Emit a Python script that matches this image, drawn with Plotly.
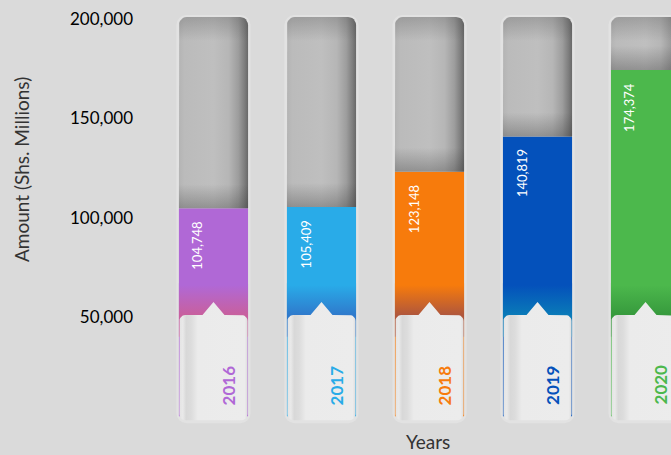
import plotly.graph_objects as go
import numpy as np

# ---------------- data ----------------
years = ["2016", "2017", "2018", "2019", "2020"]
amounts = [104748, 105409, 123148, 140819, 174374]
bar_colors = ["#b068d6", "#29abe8", "#f77b0c", "#0451bb", "#4cb84c"]
fade_colors = ["#c8609e", "#2f7acc", "#b0573c", "#0a7ab8", "#379a3d"]
y_ticks = [50000, 100000, 150000, 200000]
y_tick_text = ["50,000", "100,000", "150,000", "200,000"]
y_title = "Amount (Shs. Millions)"
x_title = "Years"

# ---------------- layout geometry ----------------
W, H = 671, 455
ML, MR, MT, MB = 145, 0, 10, 25
X_RANGE = [-0.634, 4.236]
Y_RANGE = [-6900, 204530]
PX_X = (W - ML - MR) / (X_RANGE[1] - X_RANGE[0])
PX_Y = (H - MT - MB) / (Y_RANGE[1] - Y_RANGE[0])
AX_MAX = 200000


def dx(p):
    return p / PX_X


def dy(p):
    return p / PX_Y


BW = 0.64
idx = list(range(len(years)))
FONT = "Lato, 'Open Sans', sans-serif"


def arc(cx, cy, rx, ry, a0, a1, n=7):
    if rx == 0 or ry == 0:
        return [(cx, cy)]
    t = np.radians(np.linspace(a0, a1, n))
    return list(zip(cx + rx * np.cos(t), cy + ry * np.sin(t)))


def rrect(x0, x1, y0, y1, rt=0, rb=0, notch=None):
    rxt, ryt, rxb, ryb = dx(rt), dy(rt), dx(rb), dy(rb)
    pts = []
    pts += arc(x0 + rxb, y0 + ryb, rxb, ryb, 270, 180)
    pts += arc(x0 + rxt, y1 - ryt, rxt, ryt, 180, 90)
    if notch is not None:
        cx, hw, hh = notch
        pts += [(cx - hw, y1), (cx, y1 + hh), (cx + hw, y1)]
    pts += arc(x1 - rxt, y1 - ryt, rxt, ryt, 90, 0)
    pts += arc(x1 - rxb, y0 + ryb, rxb, ryb, 0, -90)
    pts.append(pts[0])
    xs, ys = zip(*pts)
    return list(xs), list(ys)


def poly(xs, ys, grad):
    return go.Scatter(x=xs, y=ys, mode="lines", fill="toself",
                      line=dict(width=0, color="rgba(0,0,0,0)"),
                      fillgradient=grad, hoverinfo="skip", showlegend=False)


fig = go.Figure()

# outer light frame behind each column
frame_bot = -dy(7)
frame_top = AX_MAX + dy(4)
fig.add_trace(go.Bar(x=idx, y=[frame_top - frame_bot] * len(idx), base=[frame_bot] * len(idx),
                     width=BW + dx(5), marker=dict(color="#e2e2e2", line=dict(width=0), cornerradius=10),
                     hoverinfo="skip", showlegend=False))

# coloured value bars
fig.add_trace(go.Bar(x=idx, y=amounts, width=BW,
                     marker=dict(color=bar_colors, line=dict(width=0)),
                     hoverinfo="skip", showlegend=False))

gray_top = AX_MAX + dy(2)
for i, v in enumerate(amounts):
    x0, x1 = i - BW / 2, i + BW / 2
    # empty (gray) part of the column
    xs, ys = rrect(x0, x1, v, gray_top, rt=8)
    fig.add_trace(poly(xs, ys, dict(type="horizontal", start=x0, stop=x1, colorscale=[
        [0, "#b4b4b4"], [0.08, "#bbbbbb"], [0.5, "#bfbfbf"], [0.72, "#b6b6b6"],
        [0.86, "#9d9d9d"], [0.95, "#7d7d7d"], [1, "#686868"]])))
    # top inner shadow
    ts = gray_top - dy(24)
    xs, ys = rrect(x0, x1, ts, gray_top, rt=8)
    fig.add_trace(poly(xs, ys, dict(type="vertical", start=ts, stop=gray_top, colorscale=[
        [0, "rgba(60,60,60,0)"], [1, "rgba(60,60,60,0.24)"]])))
    # bottom inner shadow
    bs = v + dy(24)
    xs, ys = rrect(x0, x1, v, bs)
    fig.add_trace(poly(xs, ys, dict(type="vertical", start=v, stop=bs, colorscale=[
        [0, "rgba(50,50,50,0.32)"], [1, "rgba(50,50,50,0)"]])))
    # gradient at the lower part of the coloured bar
    g0, g1 = 51000, 66000
    xs, ys = rrect(x0, x1, 40000, g1 + dy(2))
    fig.add_trace(poly(xs, ys, dict(type="vertical", start=g0, stop=g1, colorscale=[
        [0, fade_colors[i]], [1, bar_colors[i]]])))

# label boxes with pointer
box_bot = -dy(4)
box_top = 51000
for i in idx:
    x0, x1 = i - BW / 2 + dx(0.5), i + BW / 2 - dx(0.5)
    xs, ys = rrect(x0, x1, box_bot, box_top, rt=6, rb=6, notch=(i, dx(11), dy(13)))
    fig.add_trace(poly(xs, ys, dict(type="horizontal", start=x0, stop=x1, colorscale=[
        [0, "#e4e4e4"], [0.05, "#e9e9e9"], [0.1, "#d8d8d8"], [0.17, "#dcdcdc"],
        [0.27, "#ebebeb"], [0.96, "#ececec"], [1, "#dcdcdc"]])))

annotations = []
for i, (yr, v) in enumerate(zip(years, amounts)):
    annotations.append(dict(x=i, y=v, xref="x", yref="y", text=f"{v:,}", textangle=-90,
                            xanchor="center", yanchor="top", xshift=-16, yshift=-11,
                            showarrow=False, font=dict(family=FONT, size=13, color="white")))
    annotations.append(dict(x=i, y=4700, xref="x", yref="y", text=yr, textangle=-90,
                            xanchor="center", yanchor="bottom", xshift=15,
                            showarrow=False,
                            font=dict(family=FONT, size=17, color=bar_colors[i], weight=700)))

annotations.append(dict(x=(428 - ML) / (W - ML - MR), y=-(442 - (H - MB)) / (H - MT - MB),
                        xref="paper", yref="paper", text=x_title, showarrow=False,
                        xanchor="center", yanchor="middle",
                        font=dict(family=FONT, size=19, color="#333333")))
annotations.append(dict(x=(21 - ML) / (W - ML - MR), y=((H - MB) - 170) / (H - MT - MB),
                        xref="paper", yref="paper", text=y_title, showarrow=False, textangle=-90,
                        xanchor="center", yanchor="middle",
                        font=dict(family=FONT, size=19, color="#333333")))

fig.update_layout(
    width=W, height=H,
    margin=dict(l=ML, r=MR, t=MT, b=MB, autoexpand=False),
    paper_bgcolor="#dadada", plot_bgcolor="#dadada",
    barmode="overlay", showlegend=False,
    xaxis=dict(range=X_RANGE, showticklabels=False, showgrid=False, zeroline=False,
               showline=False, ticks="", fixedrange=True),
    yaxis=dict(range=Y_RANGE, tickvals=y_ticks, ticktext=y_tick_text, showgrid=False,
               zeroline=False, showline=False, ticks="", fixedrange=True,
               ticklabelstandoff=11,
               tickfont=dict(family=FONT, size=17, color="#000000")),
    annotations=annotations,
)

fig.write_html("out.html")
